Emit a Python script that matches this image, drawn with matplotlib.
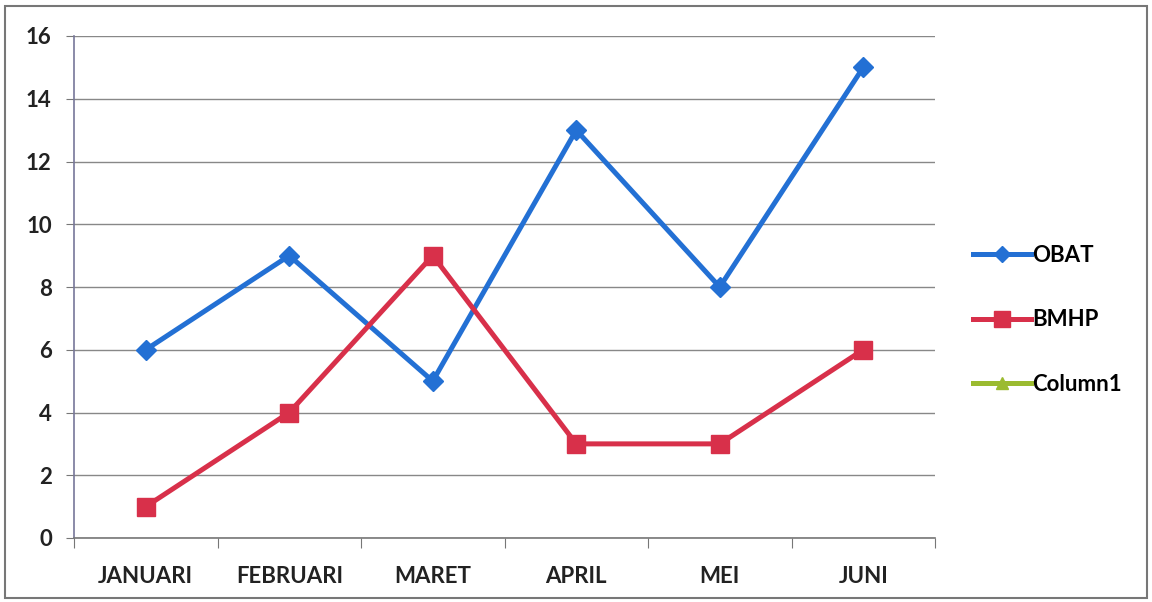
import matplotlib
matplotlib.use("Agg")
import matplotlib.pyplot as plt
from matplotlib.lines import Line2D
from matplotlib.patches import Rectangle

# data
months = ["JANUARI", "FEBRUARI", "MARET", "APRIL", "MEI", "JUNI"]
obat = [6, 9, 5, 13, 8, 15]
bmhp = [1, 4, 9, 3, 3, 6]
yticks = [0, 2, 4, 6, 8, 10, 12, 14, 16]

plt.rcParams["font.family"] = ["Lato", "DejaVu Sans"]

fig = plt.figure(figsize=(11.52, 6.02), dpi=100)
ax = fig.add_axes([74 / 1152, 1 - 538 / 602, 861 / 1152, 502 / 602])

blue = "#2370d4"
red = "#d8304a"
green = "#9bbb30"

x = list(range(len(months)))
ax.plot(x, obat, color=blue, lw=3.6, marker="D", ms=10, zorder=3)
ax.plot(x, bmhp, color=red, lw=3.6, marker="s", ms=13, zorder=3)

ax.set_xlim(-0.5, len(months) - 0.5)
ax.set_ylim(0, 16)
ax.set_yticks(yticks)
ax.set_yticklabels([str(v) for v in yticks], fontsize=16, fontweight="bold", color="#222222")
ax.grid(axis="y", color="#888888", lw=1.0)
ax.set_axisbelow(True)

# category ticks at boundaries, labels at centers
ax.set_xticks([i - 0.5 for i in range(len(months) + 1)])
ax.set_xticklabels([])
ax.set_xticks(x, minor=True)
ax.set_xticklabels(months, minor=True, fontsize=16, fontweight="bold", color="#222222")
ax.tick_params(axis="x", which="minor", length=0, pad=20)
ax.tick_params(axis="x", which="major", length=7, color="#777777", direction="out")
ax.tick_params(axis="y", length=6, color="#777777", pad=10)

for s in ["top", "right"]:
    ax.spines[s].set_visible(False)
ax.spines["left"].set_color("#777799")
ax.spines["bottom"].set_color("#777777")
ax.spines["left"].set_linewidth(1.2)
ax.spines["bottom"].set_linewidth(1.2)

handles = [
    Line2D([], [], color=blue, lw=3.6, marker="D", ms=8),
    Line2D([], [], color=red, lw=3.6, marker="s", ms=12),
    Line2D([], [], color=green, lw=3.6, marker="^", ms=9),
]
fig.legend(handles, ["OBAT", "BMHP", "Column1"], loc="center left",
           bbox_to_anchor=(953 / 1152, 1 - 320 / 602), frameon=False,
           handlelength=2.6, handletextpad=0.05, labelspacing=1.95,
           prop={"weight": "bold", "size": 16})

fig.patches.append(Rectangle((5 / 1152, 4 / 602), 1142 / 1152, 592 / 602,
                             transform=fig.transFigure, fill=False,
                             edgecolor="#777777", lw=1.5))

fig.savefig("out.png", dpi=100)
